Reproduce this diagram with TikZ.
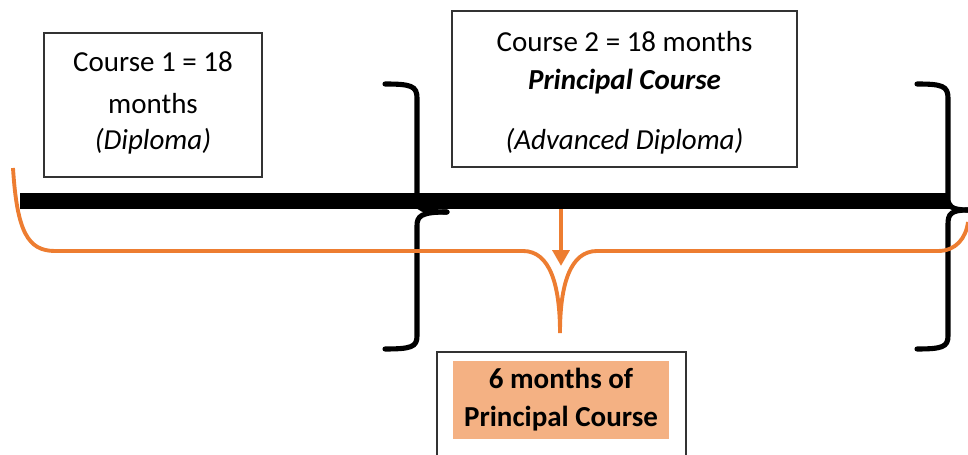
\documentclass[tikz,border=0pt]{standalone}
\usepackage{fontspec}
\setmainfont{Carlito}
\usetikzlibrary{arrows.meta}
\definecolor{orng}{HTML}{ED7D31}
\definecolor{lorng}{HTML}{F4B183}
\begin{document}
\begin{tikzpicture}[x=0.02cm,y=-0.02cm,
  txt/.style={font=\fontsize{16.5}{21.5}\selectfont, align=center, text=black},
  box/.style={draw=black!80, line width=0.6pt, inner sep=0pt},
  brace/.style={draw=black, line width=2.9pt, line cap=round},
  obrace/.style={draw=orng, line width=2.2pt},
  oarrow/.style={draw=orng, line width=2.2pt, -{Triangle[width=9.5pt,length=9pt]}, fill=orng}]
\useasboundingbox (0,0) rectangle (968,455);
% boxes
\node[box, minimum width=218*0.02cm, minimum height=144*0.02cm] (c1) at (153,105) {};
\node[txt] (c1t) at (153,103)
  {Course 1 = 18\\[2pt] months\\[-1pt] \textit{(Diploma)}};
\node[box, minimum width=345*0.02cm, minimum height=156*0.02cm] (c2) at (624.5,89) {};
\node[txt] (c2t) at (624.5,93)
  {Course 2 = 18 months\\ \textbf{\textit{Principal Course}}\\[12.5pt] \textit{(Advanced Diploma)}};
% bar
\node[fill=black, inner sep=0pt, minimum width=930*0.02cm, minimum height=16*0.02cm] (bar) at (485,201) {};
% braces
\draw[brace] (385,84) .. controls (411,84) and (417,86) .. (417,98) -- (417,200)
  .. controls (417,208) and (421,212) .. (447,212);
\draw[brace] (447,212) .. controls (421,212) and (417,216) .. (417,226) -- (417,336)
  .. controls (417,347) and (411,349) .. (385,349);
\draw[brace] (917,84) .. controls (942,84) and (948,86) .. (948,98) -- (948,198)
  .. controls (948,206) and (951,210) .. (968,210);
\draw[brace] (968,210) .. controls (951,210) and (948,214) .. (948,224) -- (948,336)
  .. controls (948,347) and (942,349) .. (917,349);
% orange brace
\coordinate (otip) at (560,333);
\draw[obrace] (13,168) .. controls (17,232) and (28,251) .. (55,251) -- (523,251)
  .. controls (550,251) and (560,285) .. (otip)
  .. controls (560,285) and (570,251) .. (597,251) -- (938,251)
  .. controls (956,251) and (966,238) .. (968,222);
% arrow
\coordinate (atip) at (561,266);
\draw[oarrow] (bar.south -| atip) -- (atip);
% bottom box
\draw[box] (437,470) |- (686,352) -- (686,470);
\node[fill=lorng, txt, font=\fontsize{16.5}{21.5}\selectfont\bfseries, minimum width=216*0.02cm, minimum height=78*0.02cm, inner sep=0pt] (six) at (561,400)
  {6 months of\\ Principal Course};
\end{tikzpicture}
\end{document}
